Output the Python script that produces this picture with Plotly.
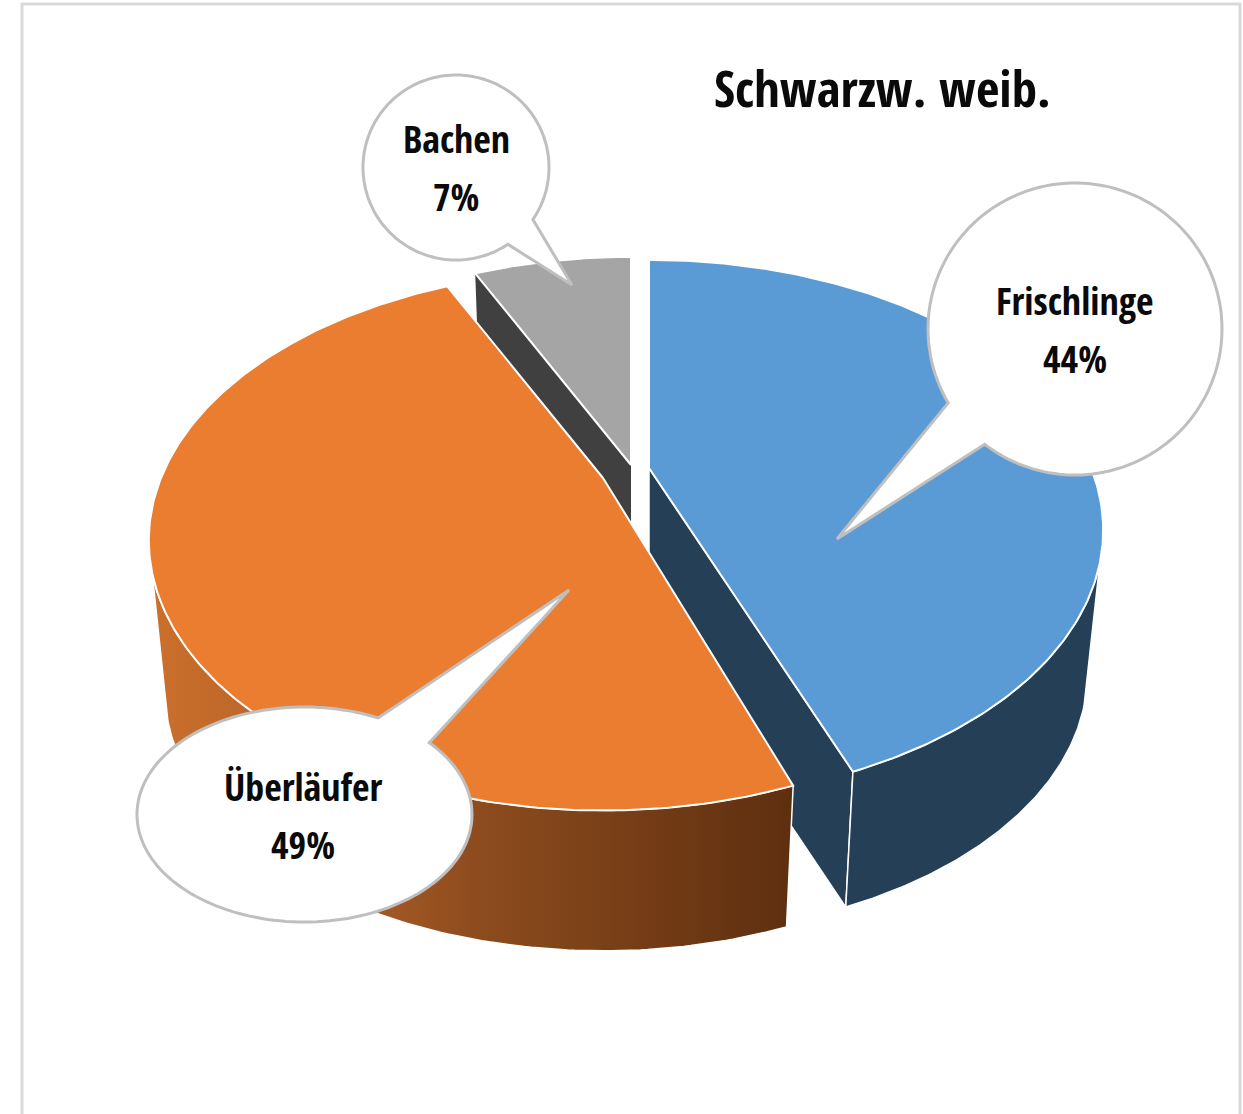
import numpy as np
import plotly.graph_objects as go

# ---- data ----
categories = ["Frischlinge", "Überläufer", "Bachen"]
values = [44, 49, 7]
title_text = "Schwarzw. weib."

# ---- styling ----
top_colors = ["#5B9BD5", "#EB7D31", "#A5A5A5"]
wall_colors = ["#243F56", "#8E4C1E", "#404040"]
apex_px = [(649, 468), (603, 478), (631, 465)]
wall_start_deg = [110, 250, None]
start_pad_deg = [0, 1.9, 0]
end_pad_deg = [0.35, 0, 0]
wall_height = [146, 152, 146]
FONT = "Open Sans Condensed, Carlito, sans-serif"
A, B, P, S = 442.0, 256.0, 0.23, 0.965


def project(theta, apex, h=None):
    u, v = np.sin(theta), np.cos(theta)
    w = 1 + P * v
    s = S if h is not None else 1.0
    return apex[0] + s * A * u / w, apex[1] + (h or 0) - s * B * v / w


fracs = np.array(values) / sum(values)
edges = np.concatenate([[0], np.cumsum(fracs)]) * 2 * np.pi
starts = edges[:-1] + np.radians(start_pad_deg)
ends = edges[1:] + np.radians(end_pad_deg)
fig = go.Figure()

# walls first
for i in [2, 0, 1]:
    a0, a1 = starts[i], ends[i]
    apex = apex_px[i]
    H = wall_height[i]
    if i == 0:  # cut wall (end edge)
        ex, ey = project(a1, apex)
        bx, by = project(a1, apex, H)
        fig.add_trace(go.Scatter(x=[apex[0], ex, bx, apex[0], apex[0]],
                                 y=[apex[1], ey, by, apex[1] + H, apex[1]],
                                 mode="lines", fill="toself", fillcolor=wall_colors[i],
                                 line=dict(color="white", width=1.5), hoverinfo="skip"))
    if i == 2:  # cut wall (start edge)
        ex, ey = project(a0, apex)
        bx, by = project(a0, apex, H)
        fig.add_trace(go.Scatter(x=[apex[0], ex, bx, apex[0], apex[0]],
                                 y=[apex[1], ey, by, apex[1] + H, apex[1]],
                                 mode="lines", fill="toself", fillcolor=wall_colors[i],
                                 line=dict(width=0), hoverinfo="skip"))
    if wall_start_deg[i] is not None:
        if i == 0:
            t = np.linspace(np.radians(wall_start_deg[i]), a1, 120)
        else:
            t = np.linspace(a0, np.radians(wall_start_deg[i]), 120)
        tx, ty = project(t, apex)
        bx, by = project(t[::-1], apex, H)
        xs = np.concatenate([tx, bx, tx[:1]])
        ys = np.concatenate([ty, by, ty[:1]])
        kw = dict(fillcolor=wall_colors[i])
        if i == 1:
            kw = dict(fillgradient=dict(type="horizontal", colorscale=[
                [0, "#CB6F2B"], [0.22, "#B8642A"], [0.5, "#8E4C1E"], [1, "#5E2F0F"]]))
        fig.add_trace(go.Scatter(x=xs, y=ys, mode="lines", fill="toself",
                                 line=dict(color="white", width=1.5), hoverinfo="skip", **kw))

# top faces
for i in [2, 0, 1]:
    apex = apex_px[i]
    t = np.linspace(starts[i], ends[i], 240)
    ax, ay = project(t, apex)
    fig.add_trace(go.Scatter(x=np.concatenate([[apex[0]], ax, [apex[0]]]),
                             y=np.concatenate([[apex[1]], ay, [apex[1]]]),
                             mode="lines", fill="toself", fillcolor=top_colors[i],
                             line=dict(color="white", width=2), name=categories[i],
                             hoverinfo="name"))


def callout(cx, cy, rx, ry, p1, p2, tip):
    a1 = np.arctan2((p1[1] - cy) / ry, (p1[0] - cx) / rx)
    a2 = np.arctan2((p2[1] - cy) / ry, (p2[0] - cx) / rx)
    if a2 > a1:
        a2 -= 2 * np.pi
    if a1 - a2 < np.pi:
        a2 += 2 * np.pi
    t = np.linspace(a1, a2, 160)
    pts = [f"{cx + rx * np.cos(k):.1f},{cy + ry * np.sin(k):.1f}" for k in t]
    return "M" + " L".join(pts) + f" L{tip[0]},{tip[1]} Z"


callouts = {
    "Frischlinge": (1075, 329, 147, 146, (948, 403), (984, 445), (837, 539)),
    "Überläufer": (304.5, 814.5, 167.5, 107.5, (378, 718), (429, 743), (569, 590)),
    "Bachen": (456, 167.5, 93, 92.5, (532, 219), (507, 243), (572, 285)),
}
label_pos = {"Frischlinge": (1075, 300, 358), "Überläufer": (303, 786, 844), "Bachen": (456, 138, 196)}
shapes = [dict(type="path", path="M22,1114 L22,4 L1240,4 L1240,1114",
               line=dict(color="#D9D9D9", width=3), layer="below")]
annotations = [dict(x=882, y=87, text=f"<b>{title_text}</b>", showarrow=False,
                    xref="x", yref="y", font=dict(family=FONT, size=51, color="#0A0A0A"))]
for cat, v in zip(categories, values):
    c = callouts[cat]
    shapes.append(dict(type="path", path=callout(*c), fillcolor="white",
                       line=dict(color="#BFBFBF", width=3), layer="above"))
    lx, ly0, ly1 = label_pos[cat]
    annotations.append(dict(x=lx, y=ly0, text=f"<b>{cat}</b>", showarrow=False,
                            font=dict(family=FONT, size=38, color="#0A0A0A")))
    annotations.append(dict(x=lx, y=ly1, text=f"<b>{v}%</b>", showarrow=False,
                            font=dict(family=FONT, size=38, color="#0A0A0A")))

fig.update_layout(
    width=1243, height=1114, margin=dict(l=0, r=0, t=0, b=0),
    paper_bgcolor="white", plot_bgcolor="white", showlegend=False,
    xaxis=dict(range=[0, 1243], visible=False, fixedrange=True),
    yaxis=dict(range=[1114, 0], visible=False, fixedrange=True),
    shapes=shapes, annotations=annotations,
)
fig.write_html("out.html", config=dict(displayModeBar=False),
               post_script="document.body.style.margin='0';document.body.style.overflow='hidden';")
